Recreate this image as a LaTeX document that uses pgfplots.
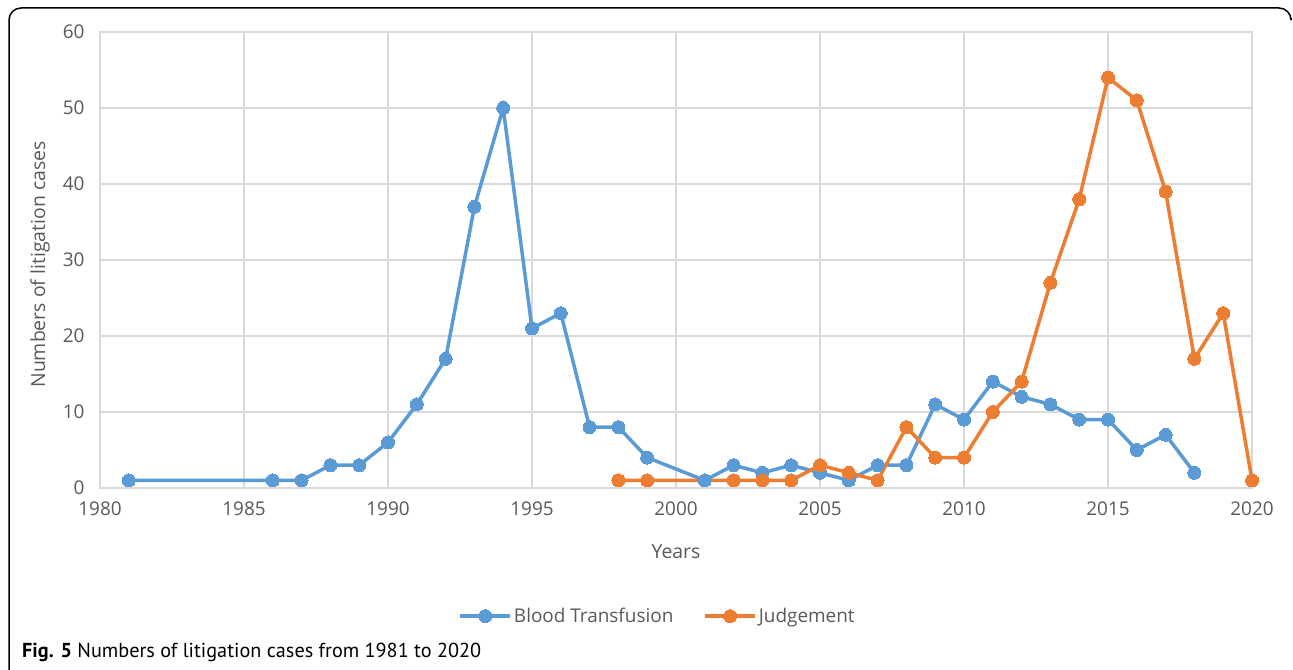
\documentclass[border=0pt]{standalone}
\usepackage{pgfplots}
\pgfplotsset{compat=1.18}
\usepackage{fontspec}
\setmainfont{Open Sans}
\newfontfamily\capfont{PT Sans}
\definecolor{bt}{HTML}{5B9BD5}
\definecolor{jd}{HTML}{ED7D31}
\definecolor{tk}{HTML}{595959}
\definecolor{gr}{HTML}{D9D9D9}
\begin{document}
\begin{tikzpicture}[x=1bp,y=1bp]
\path[use as bounding box] (0,0) rectangle (1293,670);
\draw[line width=1.5bp, rounded corners=12bp] (9,-5) -- (9,662) -- (1291,662) -- (1291,652);
\begin{axis}[
  at={(100bp,182bp)}, anchor=south west, scale only axis,
  width=1152bp, height=456bp,
  xmin=1980, xmax=2020, ymin=0, ymax=60,
  xtick={1980,1985,...,2020}, ytick={0,10,...,60},
  grid=major, major grid style={gr, line width=1.2bp},
  axis line style={gr, line width=1.2bp},
  tick style={draw=none},
  /pgf/number format/assume math mode=true,
  tick label style={font=\fontsize{19}{22}\selectfont, text=tk},
  xticklabel style={/pgf/number format/1000 sep={}, yshift=-10bp},
  yticklabel style={xshift=-12bp},
  xlabel={Years}, ylabel={Numbers of litigation cases},
  label style={font=\fontsize{19.5}{24}\selectfont, text=tk},
  xlabel style={at={(axis description cs:0.5,-0.1404)}, anchor=center},
  ylabel style={at={(axis description cs:-0.0520,0.49)}, anchor=center},
  legend style={at={(0.484,-0.281)}, anchor=center, draw=none, fill=none,
    legend columns=2, font=\fontsize{19}{22}\selectfont\color{tk},
    /tikz/every even column/.append style={column sep=28bp}},
  legend image code/.code={\draw[mark repeat=2,mark phase=2,#1] plot coordinates {(0bp,0bp)(25bp,0bp)(50bp,0bp)};},
]
\addplot[bt, line width=3.5bp, mark=*, mark size=6.5bp, mark options={fill=bt, draw=bt, line width=0bp}] coordinates {
(1981,1) (1986,1) (1987,1) (1988,3) (1989,3) (1990,6) (1991,11) (1992,17) (1993,37) (1994,50)
(1995,21) (1996,23) (1997,8) (1998,8) (1999,4) (2001,1) (2002,3) (2003,2) (2004,3) (2005,2)
(2006,1) (2007,3) (2008,3) (2009,11) (2010,9) (2011,14) (2012,12) (2013,11) (2014,9) (2015,9)
(2016,5) (2017,7) (2018,2)};
\addlegendentry{Blood Transfusion}
\addplot[jd, line width=3.5bp, mark=*, mark size=6.5bp, mark options={fill=jd, draw=jd, line width=0bp}] coordinates {
(1998,1) (1999,1) (2002,1) (2003,1) (2004,1) (2005,3) (2006,2) (2007,1) (2008,8) (2009,4)
(2010,4) (2011,10) (2012,14) (2013,27) (2014,38) (2015,54) (2016,51) (2017,39) (2018,17) (2019,23)
(2020,1)};
\addlegendentry{Judgement}
\end{axis}
\node[anchor=west, inner sep=0pt, font=\capfont\fontsize{20.3}{24}\selectfont] at (22,18) {\textbf{Fig. 5} Numbers of litigation cases from 1981 to 2020};
\end{tikzpicture}
\end{document}
